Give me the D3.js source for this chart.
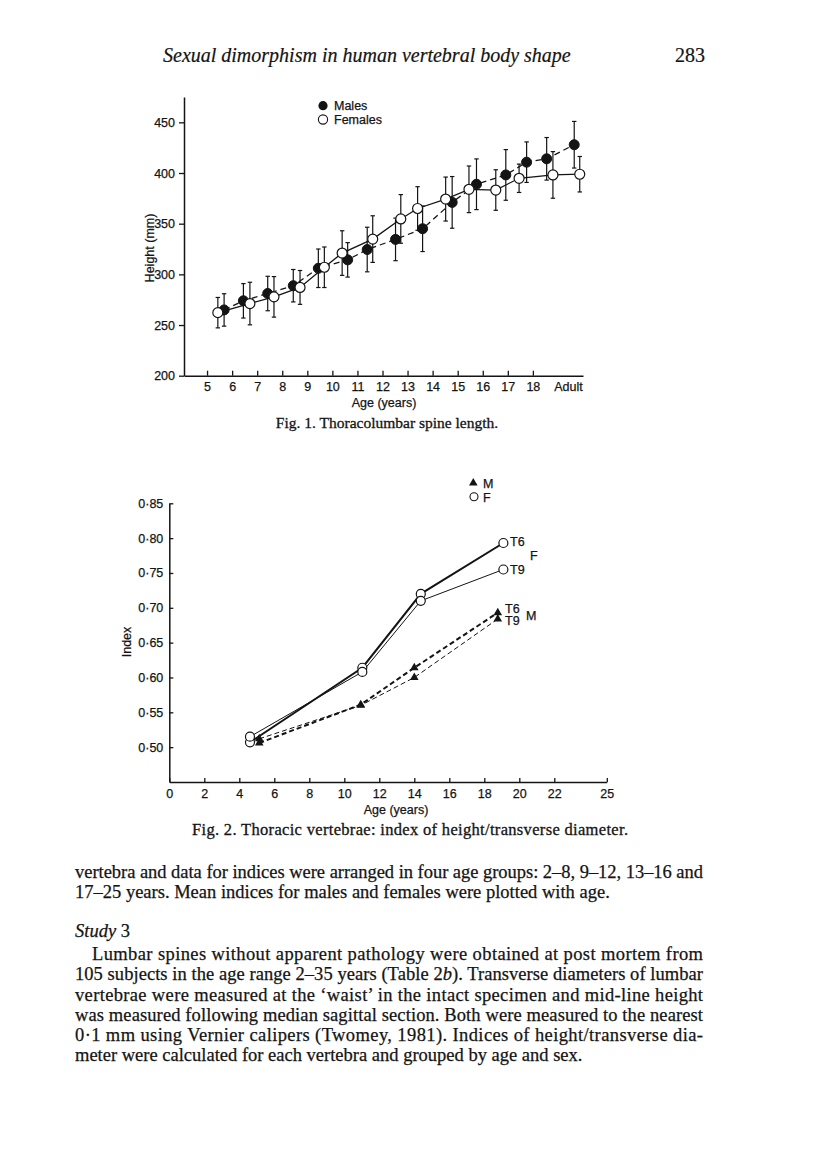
<!DOCTYPE html>
<html>
<head>
<meta charset="utf-8">
<script src="https://cdn.jsdelivr.net/npm/d3@7"></script>
<style>
  html, body { margin: 0; padding: 0; background: #fff; }
  svg { display: block; }
  .sans { font-family: "Liberation Sans", Arial, Helvetica, sans-serif; }
  .serif { font-family: "Liberation Serif", "Times New Roman", serif; }
</style>
</head>
<body>
<svg id="page" width="816" height="1158"></svg>
<script>
// ---------------- Fig. 1 data ----------------
const fig1XTicks = [5, 6, 7, 8, 9, 10, 11, 12, 13, 14, 15, 16, 17, 18];
const fig1AdultLabel = "Adult";
const fig1YTicks = [200, 250, 300, 350, 400, 450];
const maleAge = [5.68, 6.45, 7.42, 8.44, 9.44, 10.61, 11.39, 12.52, 13.6, 14.78, 15.75, 16.92, 17.75, 18.55, 19.65];
const maleHeight = [264.9, 273.9, 281.1, 288.8, 306, 314.3, 324.5, 334.5, 345, 371, 388.9, 398.1, 410.7, 414, 427.9];
const maleErr = [16, 17, 17, 16, 19, 17, 22, 21, 22.5, 25.5, 25, 25, 20, 21, 23];
const femaleAge = [5.43, 6.71, 7.67, 8.71, 9.68, 10.39, 11.61, 12.73, 13.4, 14.52, 15.45, 16.52, 17.45, 18.8, 19.87];
const femaleHeight = [262.2, 271.2, 277.8, 287.1, 307, 321, 334.8, 354.7, 365, 374.3, 383.9, 383.2, 394.8, 398.1, 398.8];
const femaleErr = [15, 21, 20, 16.7, 20, 22, 23, 24, 21.5, 21.7, 23, 20, 14, 23, 17.5];

// ---------------- Fig. 2 data ----------------
const fig2XTicks = [0, 2, 4, 6, 8, 10, 12, 14, 16, 18, 20, 22, 25];
const fig2YTicks = [0.50, 0.55, 0.60, 0.65, 0.70, 0.75, 0.80, 0.85];
const fAge = [4.61, 11.03, 14.37, 19.09];
const mAge = [5.14, 10.94, 14.0, 18.77];
const fT6 = [0.507, 0.614, 0.720, 0.793];
const fT9 = [0.515, 0.608, 0.710, 0.755];
const mT6 = [0.506, 0.561, 0.614, 0.693];
const mT9 = [0.512, 0.560, 0.600, 0.684];

// ---------------- Text ----------------
const headerText = "Sexual dimorphism in human vertebral body shape";
const pageNumber = "283";
const fig1Caption = "Fig. 1. Thoracolumbar spine length.";
const fig2Caption = "Fig. 2. Thoracic vertebrae: index of height/transverse diameter.";
const bodyLines = [
  {t: "vertebra and data for indices were arranged in four age groups: 2\u20138, 9\u201312, 13\u201316 and", just: true},
  {t: "17\u201325 years. Mean indices for males and females were plotted with age.", just: false}
];
const bodyLines2 = [
  {t: "Lumbar spines without apparent pathology were obtained at post mortem from", just: true, indent: true},
  {t: "105 subjects in the age range 2\u201335 years (Table 2|b|). Transverse diameters of lumbar", just: true},
  {t: "vertebrae were measured at the \u2018waist\u2019 in the intact specimen and mid-line height", just: true},
  {t: "was measured following median sagittal section. Both were measured to the nearest", just: true},
  {t: "0\u00b71 mm using Vernier calipers (Twomey, 1981). Indices of height/transverse dia-", just: true},
  {t: "meter were calculated for each vertebra and grouped by age and sex.", just: false}
];

const ink = "#141414";
const svg = d3.select("#page");
svg.append("rect").attr("width", 816).attr("height", 1158).attr("fill", "#fff");

// ---------- Header ----------
svg.append("text").attr("class", "serif").attr("x", 163).attr("y", 62)
  .attr("font-size", 20).attr("font-style", "italic").attr("fill", ink)
  .attr("stroke", ink).attr("stroke-width", 0.2).text(headerText);
svg.append("text").attr("class", "serif").attr("x", 705).attr("y", 62).attr("text-anchor", "end")
  .attr("font-size", 20).attr("fill", ink).attr("stroke", ink).attr("stroke-width", 0.2).text(pageNumber);

// ================= FIG 1 =================
const g1 = svg.append("g");
const x1 = d3.scaleLinear().domain([4.08, 20]).range([184, 583]);
const y1 = d3.scaleLinear().domain([200, 475]).range([375.7, 97]);

const xAxis1 = d3.axisBottom(x1)
  .tickValues(fig1XTicks.concat([19.4]))
  .tickFormat(d => d === 19.4 ? fig1AdultLabel : d)
  .tickSizeInner(-5).tickSizeOuter(0).tickPadding(6);
const gx1 = g1.append("g").attr("transform", `translate(0,${y1(200)})`).call(xAxis1);
gx1.selectAll(".tick").filter(d => d === 19.4).select("line").remove();

const yAxis1 = d3.axisLeft(y1).tickValues(fig1YTicks).tickSizeInner(5).tickSizeOuter(0).tickPadding(4);
const gy1 = g1.append("g").attr("transform", `translate(${x1(4.08)},0)`).call(yAxis1);

function styleAxis(g) {
  g.selectAll("path.domain").attr("stroke", ink).attr("stroke-width", 1.5);
  g.selectAll(".tick line").attr("stroke", ink).attr("stroke-width", 1.3);
  g.selectAll(".tick text").attr("font-size", 12.5).attr("fill", ink)
    .attr("stroke", ink).attr("stroke-width", 0.25)
    .attr("font-family", "Liberation Sans, Arial, sans-serif");
}
styleAxis(gx1); styleAxis(gy1);

const sansText = (g, x, y, t, anchor) => g.append("text").attr("class", "sans").attr("x", x).attr("y", y)
  .attr("text-anchor", anchor || "start").attr("font-size", 12.5).attr("fill", ink)
  .attr("stroke", ink).attr("stroke-width", 0.25).text(t);

sansText(g1, 384, 407, "Age (years)", "middle");
g1.append("text").attr("class", "sans").attr("transform", "translate(154,248) rotate(-90)")
  .attr("text-anchor", "middle").attr("font-size", 12.5).attr("fill", ink)
  .attr("stroke", ink).attr("stroke-width", 0.25).text("Height (mm)");

const males = maleAge.map((a, i) => ({a, v: maleHeight[i], e: maleErr[i]}));
const females = femaleAge.map((a, i) => ({a, v: femaleHeight[i], e: femaleErr[i]}));
const line1 = d3.line().x(d => x1(d.a)).y(d => y1(d.v));

g1.append("path").datum(females).attr("d", line1).attr("fill", "none")
  .attr("stroke", ink).attr("stroke-width", 1.3);
g1.append("path").datum(males).attr("d", line1).attr("fill", "none")
  .attr("stroke", ink).attr("stroke-width", 1.3).attr("stroke-dasharray", "6,4");

function errorBars(data) {
  const eg = g1.append("g").attr("stroke", ink).attr("stroke-width", 1.2);
  data.forEach(d => {
    const cx = x1(d.a), t = y1(d.v + d.e), b = y1(d.v - d.e);
    eg.append("line").attr("x1", cx).attr("x2", cx).attr("y1", t).attr("y2", b);
    eg.append("line").attr("x1", cx - 2.2).attr("x2", cx + 2.2).attr("y1", t).attr("y2", t);
    eg.append("line").attr("x1", cx - 2.2).attr("x2", cx + 2.2).attr("y1", b).attr("y2", b);
  });
}
errorBars(males);
errorBars(females);

g1.selectAll("circle.m").data(males).enter().append("circle")
  .attr("cx", d => x1(d.a)).attr("cy", d => y1(d.v)).attr("r", 5)
  .attr("fill", ink).attr("stroke", ink).attr("stroke-width", 1);
g1.selectAll("circle.f").data(females).enter().append("circle")
  .attr("cx", d => x1(d.a)).attr("cy", d => y1(d.v)).attr("r", 5)
  .attr("fill", "#fff").attr("stroke", ink).attr("stroke-width", 1.2);

// legend fig1
g1.append("circle").attr("cx", 323).attr("cy", 105.7).attr("r", 4.6).attr("fill", ink);
g1.append("circle").attr("cx", 323).attr("cy", 119.5).attr("r", 4.6).attr("fill", "#fff")
  .attr("stroke", ink).attr("stroke-width", 1.1);
sansText(g1, 334, 110, "Males");
sansText(g1, 334, 124, "Females");

svg.append("text").attr("class", "serif").attr("x", 387).attr("y", 427.5).attr("text-anchor", "middle")
  .attr("font-size", 15.5).attr("fill", ink).attr("stroke", ink).attr("stroke-width", 0.3)
  .text(fig1Caption);

// ================= FIG 2 =================
const g2 = svg.append("g");
const x2 = d3.scaleLinear().domain([0, 25]).range([169.3, 606.8]);
const y2 = d3.scaleLinear().domain([0.45, 0.85]).range([782, 503.3]);
const fmt = d3.format(".2f");

const xAxis2 = d3.axisBottom(x2).tickValues(fig2XTicks).tickSizeInner(-4).tickSizeOuter(0).tickPadding(7.5);
const gx2 = g2.append("g").attr("transform", `translate(0,${y2(0.45)})`).call(xAxis2);
const yAxis2 = d3.axisLeft(y2).tickValues(fig2YTicks).tickFormat(d => fmt(d).replace(".", "\u00b7"))
  .tickSizeInner(-4).tickSizeOuter(0).tickPadding(6);
const gy2 = g2.append("g").attr("transform", `translate(${x2(0)},0)`).call(yAxis2);
styleAxis(gx2); styleAxis(gy2);

sansText(g2, 396, 814, "Age (years)", "middle");
g2.append("text").attr("class", "sans").attr("transform", "translate(131,642) rotate(-90)")
  .attr("text-anchor", "middle").attr("font-size", 12.5).attr("fill", ink)
  .attr("stroke", ink).attr("stroke-width", 0.25).text("Index");

const series2 = [
  {ages: fAge, vals: fT6, w: 2, dash: null, sym: "circle"},
  {ages: fAge, vals: fT9, w: 1, dash: null, sym: "circle"},
  {ages: mAge, vals: mT6, w: 2, dash: "5,3", sym: "tri"},
  {ages: mAge, vals: mT9, w: 1, dash: "5,3", sym: "tri"}
];
const line2 = d3.line().x(d => x2(d[0])).y(d => y2(d[1]));
series2.forEach(s => {
  const pts = s.ages.map((a, i) => [a, s.vals[i]]);
  g2.append("path").datum(pts).attr("d", line2).attr("fill", "none").attr("stroke", ink)
    .attr("stroke-width", s.w).attr("stroke-dasharray", s.dash);
});
const tri = d3.symbol(d3.symbolTriangle, 32);
series2.forEach(s => {
  const pts = s.ages.map((a, i) => [a, s.vals[i]]);
  if (s.sym === "circle") {
    g2.selectAll(null).data(pts).enter().append("circle")
      .attr("cx", d => x2(d[0])).attr("cy", d => y2(d[1])).attr("r", 4.5)
      .attr("fill", "#fff").attr("stroke", ink).attr("stroke-width", 1.2);
  } else {
    g2.selectAll(null).data(pts).enter().append("path").attr("d", tri)
      .attr("transform", d => `translate(${x2(d[0])},${y2(d[1])})`).attr("fill", ink);
  }
});

// legend fig2
g2.append("path").attr("d", tri).attr("transform", "translate(473.3,483)").attr("fill", ink);
g2.append("circle").attr("cx", 474).attr("cy", 496.7).attr("r", 4).attr("fill", "#fff")
  .attr("stroke", ink).attr("stroke-width", 1.1);
sansText(g2, 483, 487.5, "M");
sansText(g2, 483, 501.5, "F");

// series labels
sansText(g2, 510, 546, "T6");
sansText(g2, 510, 574, "T9");
sansText(g2, 530, 560, "F");
sansText(g2, 505, 613, "T6");
sansText(g2, 505, 625, "T9");
sansText(g2, 526, 620, "M");

svg.append("text").attr("class", "serif").attr("x", 410).attr("y", 835).attr("text-anchor", "middle")
  .attr("font-size", 16.5).attr("fill", ink).attr("stroke", ink).attr("stroke-width", 0.3)
  .attr("textLength", 436).attr("lengthAdjust", "spacing")
  .text(fig2Caption);

// ================= Body text =================
const leftM = 75, rightM = 703, bodySize = 18.5;
function bodyLine(l, y) {
  const x = l.indent ? leftM + 17 : leftM;
  const t = svg.append("text").attr("class", "serif").attr("x", x).attr("y", y)
    .attr("font-size", bodySize).attr("fill", ink).attr("stroke", ink).attr("stroke-width", 0.25);
  const parts = l.t.split("|");
  parts.forEach((p, i) => {
    t.append("tspan").attr("font-style", i % 2 === 1 ? "italic" : "normal").text(p);
  });
  if (l.just) t.attr("textLength", rightM - x).attr("lengthAdjust", "spacing");
}
bodyLine(bodyLines[0], 877.5);
bodyLine(bodyLines[1], 898);
const st = svg.append("text").attr("class", "serif").attr("x", leftM).attr("y", 937)
  .attr("font-size", bodySize).attr("fill", ink).attr("stroke", ink).attr("stroke-width", 0.25);
st.append("tspan").attr("font-style", "italic").text("Study");
st.append("tspan").text(" 3");
const ys = [960, 980.3, 1000.5, 1020.5, 1040.5, 1060.5];
bodyLines2.forEach((l, i) => bodyLine(l, ys[i]));
</script>
</body>
</html>
